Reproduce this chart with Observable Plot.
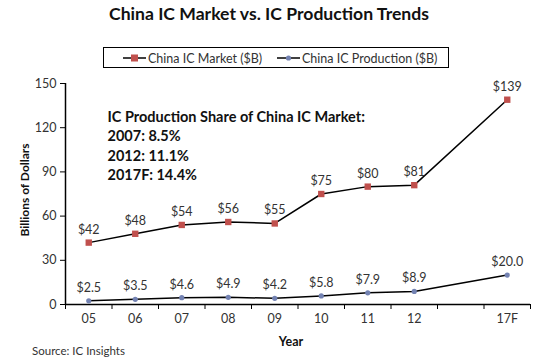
<!DOCTYPE html>
<html>
<head>
<meta charset="utf-8">
<script src="https://cdn.jsdelivr.net/npm/d3@7"></script>
<script src="https://cdn.jsdelivr.net/npm/@observablehq/plot@0.6"></script>
<style>
  html, body { margin: 0; padding: 0; background: #fff; }
  #chart { width: 538px; height: 362px; }
</style>
</head>
<body>
<div id="chart"></div>
<script>
// ---- data ----
const categories = ["05", "06", "07", "08", "09", "10", "11", "12", "", "17F"];
const years = ["05", "06", "07", "08", "09", "10", "11", "12", "17F"];
const marketValues = [42, 48, 54, 56, 55, 75, 80, 81, 139];
const productionValues = [2.5, 3.5, 4.6, 4.9, 4.2, 5.8, 7.9, 8.9, 20.0];
const yTicks = [0, 30, 60, 90, 120, 150];
const titleText = "China IC Market vs. IC Production Trends";
const marketName = "China IC Market ($B)";
const productionName = "China IC Production ($B)";
const noteLines = ["IC Production Share of China IC Market:", "2007: 8.5%", "2012: 11.1%", "2017F: 14.4%"];
const yLabel = "Billions of Dollars";
const xLabel = "Year";
const sourceText = "Source: IC Insights";

// ---- build table ----
const idx = y => categories.indexOf(y);
const market = years.map((y, i) => ({x: idx(y), v: marketValues[i], label: "$" + marketValues[i]}));
const production = years.map((y, i) => ({x: idx(y), v: productionValues[i], label: "$" + productionValues[i].toFixed(1)}));
const boundaries = d3.range(-0.5, categories.length, 1);

const font = "Lato, 'Open Sans', sans-serif";
const red = "#c0504d";
const blue = "#7382b2";
const txt = "#333";

const W = 538, H = 362;
const ml = 65, mr = 8, mt = 83, mb = 58;

const chart = Plot.plot({
  width: W, height: H,
  marginLeft: ml, marginRight: mr, marginTop: mt, marginBottom: mb,
  style: {fontFamily: font, fontSize: "12px", color: txt, background: "#fff", overflow: "visible"},
  x: {type: "linear", domain: [-0.5, categories.length - 0.5]},
  y: {domain: [0, 150]},
  marks: [
    // y axis
    Plot.axisY({ticks: yTicks, tickSize: 5, tickPadding: 4, label: null, fontSize: 12.5, stroke: "#000", color: txt}),
    // x axis tick marks at boundaries
    Plot.axisX({ticks: boundaries, tickFormat: () => "", tickSize: 5, label: null, stroke: "#000"}),
    // x labels at category centers
    Plot.axisX({ticks: d3.range(categories.length), tickFormat: i => categories[i], tickSize: 0, tickPadding: 10, label: null, fontSize: 12.5, color: txt}),
    Plot.ruleY([0], {stroke: "#000", strokeWidth: 1.5}),
    Plot.ruleX([-0.5], {stroke: "#000", strokeWidth: 1.5}),
    // series
    Plot.line(market, {x: "x", y: "v", stroke: "#000", strokeWidth: 1.5}),
    Plot.dot(market, {x: "x", y: "v", symbol: "square", r: 3.6, fill: red, stroke: "none"}),
    Plot.text(market, {x: "x", y: "v", text: "label", dy: -13, fontSize: 12.5, fill: txt}),
    Plot.line(production, {x: "x", y: "v", stroke: "#000", strokeWidth: 1.5}),
    Plot.dot(production, {x: "x", y: "v", r: 2.6, fill: blue, stroke: "none"}),
    Plot.text(production, {x: "x", y: "v", text: "label", dy: -13, fontSize: 12.5, fill: txt}),
    // annotation
    Plot.text([noteLines.join("\n")], {frameAnchor: "top-left", dx: 42, dy: 25, lineAnchor: "top", lineHeight: 1.33, textAnchor: "start", fontSize: 14.5, fontWeight: "bold", fill: "#111"})
  ]
});

const svg = d3.select(chart);
// title
svg.append("text").attr("x", 269).attr("y", 20).attr("text-anchor", "middle")
  .attr("font-family", font).attr("font-size", 17.6).attr("font-weight", "bold").attr("fill", "#111")
  .text(titleText);
// legend
const lg = svg.append("g").attr("font-family", font).attr("font-size", 12.5).attr("fill", txt).attr("text-anchor", "start");
lg.append("rect").attr("x", 103.5).attr("y", 47.5).attr("width", 345).attr("height", 20)
  .attr("fill", "none").attr("stroke", "#000").attr("stroke-width", 1);
lg.append("line").attr("x1", 123).attr("x2", 146).attr("y1", 58).attr("y2", 58).attr("stroke", "#000").attr("stroke-width", 1.5);
lg.append("rect").attr("x", 131).attr("y", 54.5).attr("width", 7).attr("height", 7).attr("fill", red);
lg.append("text").attr("x", 148).attr("y", 62.5).attr("text-anchor", "start").text(marketName);
lg.append("line").attr("x1", 277).attr("x2", 300).attr("y1", 58).attr("y2", 58).attr("stroke", "#000").attr("stroke-width", 1.5);
lg.append("circle").attr("cx", 288.5).attr("cy", 58).attr("r", 2.6).attr("fill", blue);
lg.append("text").attr("x", 302).attr("y", 62.5).attr("text-anchor", "start").text(productionName);
// axis titles
svg.append("text").attr("transform", "translate(29,190) rotate(-90)").attr("text-anchor", "middle")
  .attr("font-family", font).attr("font-size", 12).attr("font-weight", "bold").attr("fill", "#111").text(yLabel);
svg.append("text").attr("x", 291).attr("y", 346).attr("text-anchor", "middle")
  .attr("font-family", font).attr("font-size", 12.5).attr("font-weight", "bold").attr("fill", "#111").text(xLabel);
svg.append("text").attr("x", 32).attr("y", 355).attr("text-anchor", "start")
  .attr("font-family", font).attr("font-size", 11.5).attr("fill", txt).text(sourceText);

document.getElementById("chart").appendChild(chart);
</script>
</body>
</html>
